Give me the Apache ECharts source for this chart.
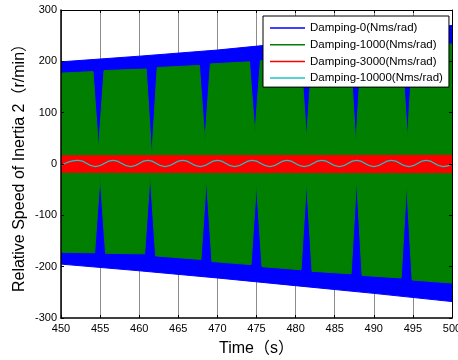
<!DOCTYPE html>
<html>
<head>
<meta charset="utf-8">
<script src="https://cdn.jsdelivr.net/npm/echarts@6/dist/echarts.min.js"></script>
<style>
  html, body { margin: 0; padding: 0; background: #fff; }
</style>
</head>
<body>
<div id="myChart" style="width:458px;height:360px;"></div>
<script>
// legend names
var seriesNames = ['Damping-0(Nms/rad)', 'Damping-1000(Nms/rad)', 'Damping-3000(Nms/rad)', 'Damping-10000(Nms/rad)']

// Damping-0 : envelope of the fast oscillation (upper / lower)
var blueT = [450, 460, 470, 480, 490, 500]
var blueTop = [199, 210, 222, 237, 253, 270]
var blueBot = [-195, -208, -222, -237, -252, -268]

// Damping-1000 : envelope with the beat notches
var greenTopT = [450, 454.1, 454.8, 455.5, 460.9, 461.6, 462.3, 467.7, 468.4, 469.1, 474.1, 474.8, 475.5, 480.7, 481.4, 482.1, 487.0, 487.7, 488.4, 493.6, 494.3, 495.0, 500]
var greenTop = [177, 180, 30, 182, 185, 15, 188, 192, 45, 195, 199, 60, 201, 205, 50, 208, 213, 40, 217, 223, 50, 227, 234]
var greenBotT = [450, 454.3, 455.0, 455.7, 460.7, 461.4, 462.1, 467.9, 468.6, 469.3, 474.3, 475.0, 475.7, 480.7, 481.4, 482.1, 487.1, 487.8, 488.5, 493.5, 494.2, 494.9, 500]
var greenBot = [-172, -173, -25, -174, -175, -20, -179, -186, -30, -190, -196, -40, -200, -206, -35, -209, -214, -30, -217, -222, -40, -226, -232]

// Damping-3000 : narrow band
var redT = [450, 500]
var redTop = [16, 17]
var redBot = [-16, -17]

// Damping-10000 : slow ripple (peaks / troughs)
var cyanT = [450, 452.2, 454.4, 456.65, 458.9, 461.1, 463.3, 465.55, 467.8, 470.0, 472.2, 474.45, 476.7, 478.9, 481.1, 483.35, 485.6, 487.8, 490.0, 492.25, 494.5, 496.7, 498.9, 500]
var cyanV = [-3, 7, -5, 7, -5, 7, -5, 7, -5, 7, -5, 7, -5, 7, -5, 7, -5, 7, -5, 7, -5, 7, -5, 0]

var colors = ['#0000ff', '#007f00', '#ff0000', '#1fc4c8']
var fontFam = "'Liberation Sans', Arial, 'Noto Sans CJK SC', sans-serif"

function pairs (t, v) {
  return t.map(function (x, i) { return [x, v[i]] })
}

function band (name, color, t, v) {
  return {
    name: name,
    type: 'line',
    data: pairs(t, v),
    symbol: 'none',
    color: color,
    lineStyle: { color: color, width: 1 },
    areaStyle: { color: color, opacity: 1 },
    silent: true
  }
}

var myChart = echarts.init(document.getElementById('myChart'))
myChart.setOption({
  animation: false,
  backgroundColor: '#fff',
  grid: { left: 61, right: 6, top: 10, bottom: 42, outerBoundsMode: 'none', containLabel: false },
  legend: {
    orient: 'vertical',
    left: 263,
    top: 16,
    z: 20,
    padding: [5, 6, 2, 7],
    itemGap: 2.7,
    itemWidth: 35,
    itemHeight: 1.5,
    icon: 'rect',
    selectedMode: false,
    backgroundColor: '#fff',
    borderColor: '#000',
    borderWidth: 1,
    textStyle: { fontSize: 11.5, lineHeight: 14, color: '#000', fontFamily: fontFam },
    data: seriesNames.map(function (n, i) {
      return { name: n, itemStyle: { color: colors[i] } }
    })
  },
  xAxis: [
    {
      // bottom axis: grid lines stay behind the data
      type: 'value',
      min: 450,
      max: 500,
      interval: 5,
      position: 'bottom',
      name: 'Time（s）',
      nameLocation: 'middle',
      nameGap: 23,
      nameMoveOverlap: false,
      nameTextStyle: { fontSize: 16, color: '#000', fontFamily: fontFam },
      axisLine: { onZero: false, lineStyle: { color: '#000', width: 1.5 } },
      axisTick: { inside: true, length: 3, lineStyle: { color: '#000' } },
      axisLabel: { fontSize: 11, color: '#000', margin: 5, fontFamily: fontFam },
      splitLine: { show: true, lineStyle: { color: '#8c8c8c', width: 1 } }
    },
    {
      type: 'value',
      min: 450,
      max: 500,
      interval: 5,
      position: 'top',
      z: 10,
      axisLine: { onZero: false, lineStyle: { color: '#000', width: 1 } },
      axisTick: { inside: true, length: 3, lineStyle: { color: '#000' } },
      axisLabel: { show: false },
      splitLine: { show: false }
    }
  ],
  yAxis: [
    {
      type: 'value',
      min: -300,
      max: 300,
      interval: 100,
      position: 'left',
      z: 10,
      name: 'Relative Speed of Inertia 2（r/min）',
      nameLocation: 'middle',
      nameGap: 33,
      nameMoveOverlap: false,
      nameTextStyle: { fontSize: 16, color: '#000', fontFamily: fontFam },
      axisLine: { show: true, onZero: false, lineStyle: { color: '#000', width: 1.5 } },
      axisTick: { show: true, inside: true, length: 3, lineStyle: { color: '#000' } },
      axisLabel: { fontSize: 11, color: '#000', margin: 4, fontFamily: fontFam },
      splitLine: { show: false }
    },
    {
      type: 'value',
      min: -300,
      max: 300,
      interval: 100,
      position: 'right',
      z: 10,
      axisLine: { show: true, onZero: false, lineStyle: { color: '#000', width: 1 } },
      axisTick: { show: true, inside: true, length: 3, lineStyle: { color: '#000' } },
      axisLabel: { show: false },
      splitLine: { show: false }
    }
  ],
  series: [
    band(seriesNames[0], colors[0], blueT, blueTop),
    band(seriesNames[0], colors[0], blueT, blueBot),
    band(seriesNames[1], colors[1], greenTopT, greenTop),
    band(seriesNames[1], colors[1], greenBotT, greenBot),
    band(seriesNames[2], colors[2], redT, redTop),
    band(seriesNames[2], colors[2], redT, redBot),
    {
      name: seriesNames[3],
      type: 'line',
      data: pairs(cyanT, cyanV),
      symbol: 'none',
      smooth: 0.5,
      color: colors[3],
      lineStyle: { color: colors[3], width: 1.2 },
      silent: true
    }
  ]
})
</script>
</body>
</html>
